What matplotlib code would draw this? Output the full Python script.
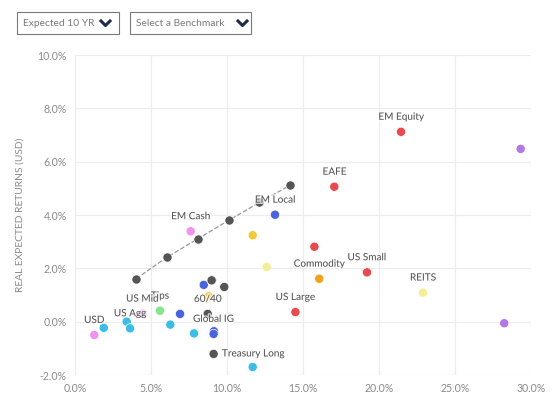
import numpy as np
import matplotlib
matplotlib.use("Agg")
import matplotlib.pyplot as plt
import matplotlib.patheffects as pe
from matplotlib.patches import Rectangle
from matplotlib.lines import Line2D

plt.rcParams['font.family'] = ['Lato', 'DejaVu Sans']

# asset classes: expected volatility (%) vs real expected return (%)
names = ["EM Equity", "", "EAFE", "", "Commodity", "US Small", "REITS", "",
         "US Large", "EM Local", "", "", "EM Cash", "", "", "", "", "Tips",
         "US Mid", "", "US Agg", "", "USD", "", "", "", "Global IG", "",
         "Treasury Long", "60/40", "", ""]
vol = [21.45, 29.32, 17.06, 15.75, 16.07, 19.21, 22.89, 28.24,
       14.50, 13.16, 11.69, 12.61, 7.61, 8.47, 6.91, 8.82, 8.99, 5.59,
       4.43, 3.40, 3.62, 1.89, 1.27, 6.27, 7.83, 9.14, 9.12, 11.69,
       9.12, 8.73, 9.82, 8.99]
ret = [7.12, 6.48, 5.06, 2.81, 1.61, 1.85, 1.09, -0.06,
       0.36, 4.01, 3.24, 2.05, 3.39, 1.38, 0.29, 0.95, 1.55, 0.41,
       0.30, 0.00, -0.25, -0.23, -0.50, -0.11, -0.44, -0.36, -0.46, -1.70,
       -1.21, 0.29, 1.30, 1.55]
group = ["equity", "alt", "equity", "equity", "commodity", "equity", "real", "alt",
         "equity", "credit", "hy", "real", "fx", "credit", "credit", "hy", "mix", "tips",
         "fx", "govt", "govt", "govt", "fx", "govt", "govt", "credit", "credit", "govt",
         "mix", "mix", "mix", "mix"]

# efficient frontier
frontier_vol = [4.03, 6.03, 8.09, 10.11, 12.13, 14.14]
frontier_ret = [1.61, 2.41, 3.11, 3.80, 4.47, 5.11]

colors = {"equity": "#e84a4f", "alt": "#b576e6", "commodity": "#f0a21e",
          "real": "#f4ef96", "credit": "#4b63dc", "hy": "#f2c93a",
          "fx": "#ef93ee", "govt": "#3cbde8", "tips": "#86e58a",
          "mix": "#555555"}

fig = plt.figure(figsize=(5.54, 3.94), dpi=100)
ax = fig.add_axes([75 / 554, 19 / 394, 456 / 554, 320 / 394])

ax.plot(frontier_vol, frontier_ret, linestyle="--", color="#999999", lw=0.9, zorder=2)
ax.scatter(frontier_vol, frontier_ret, s=44, color="#555555", edgecolor="white",
           linewidth=0.5, zorder=3)
ax.scatter(vol, ret, s=44, color=[colors[g] for g in group], edgecolor="white",
           linewidth=0.5, zorder=3)

halo = [pe.withStroke(linewidth=2, foreground="white", alpha=0.7)]
for n, x, y in zip(names, vol, ret):
    if not n:
        continue
    if n == "Treasury Long":
        ax.annotate(n, (x, y), xytext=(6, 0), textcoords="offset points",
                    ha="left", va="center", fontsize=7.2, color="#555555",
                    path_effects=halo, zorder=4)
    else:
        ax.annotate(n, (x, y), xytext=(0, 10.5), textcoords="offset points",
                    ha="center", va="center", fontsize=7.2, color="#555555",
                    path_effects=halo, zorder=4)

ax.set_xlim(0, 30)
ax.set_ylim(-2, 10)
ax.set_xticks(np.arange(0, 31, 5))
ax.set_yticks(np.arange(-2, 11, 2))
ax.set_xticklabels([f"{v:.1f}%" for v in np.arange(0, 31, 5)])
ax.set_yticklabels([f"{v:.1f}%" for v in np.arange(-2, 11, 2)])
ax.tick_params(length=0, labelsize=7.6, labelcolor="#8a8a8a", pad=6)
ax.grid(True, color="#ececec", lw=0.8)
ax.set_axisbelow(True)
for s in ax.spines.values():
    s.set_visible(False)
ax.set_ylabel("REAL EXPECTED RETURNS (USD)", fontsize=7.4, color="#8a8a8a", labelpad=9)

# dropdown controls
def dropdown(x0, x1, text, chev_x):
    W, H = 554, 394
    fig.patches.append(Rectangle((x0 / W, (H - 34) / H), (x1 - x0) / W, 22 / H,
                                 transform=fig.transFigure, fill=False,
                                 edgecolor="#7a7a7a", lw=0.8))
    fig.text((x0 + 6) / W, (H - 23) / H, text, fontsize=7.4, color="#7a7a7a",
             va="center", ha="left")
    fig.lines.append(Line2D([chev_x / W, (chev_x + 4.5) / W, (chev_x + 9) / W],
                            [(H - 21) / H, (H - 25.5) / H, (H - 21) / H],
                            transform=fig.transFigure, color="#1d2b4a", lw=2.2))

dropdown(17, 119, "Expected 10 YR", 101)
dropdown(130, 251, "Select a Benchmark", 238)

fig.savefig("out.png", dpi=100, facecolor="white")
